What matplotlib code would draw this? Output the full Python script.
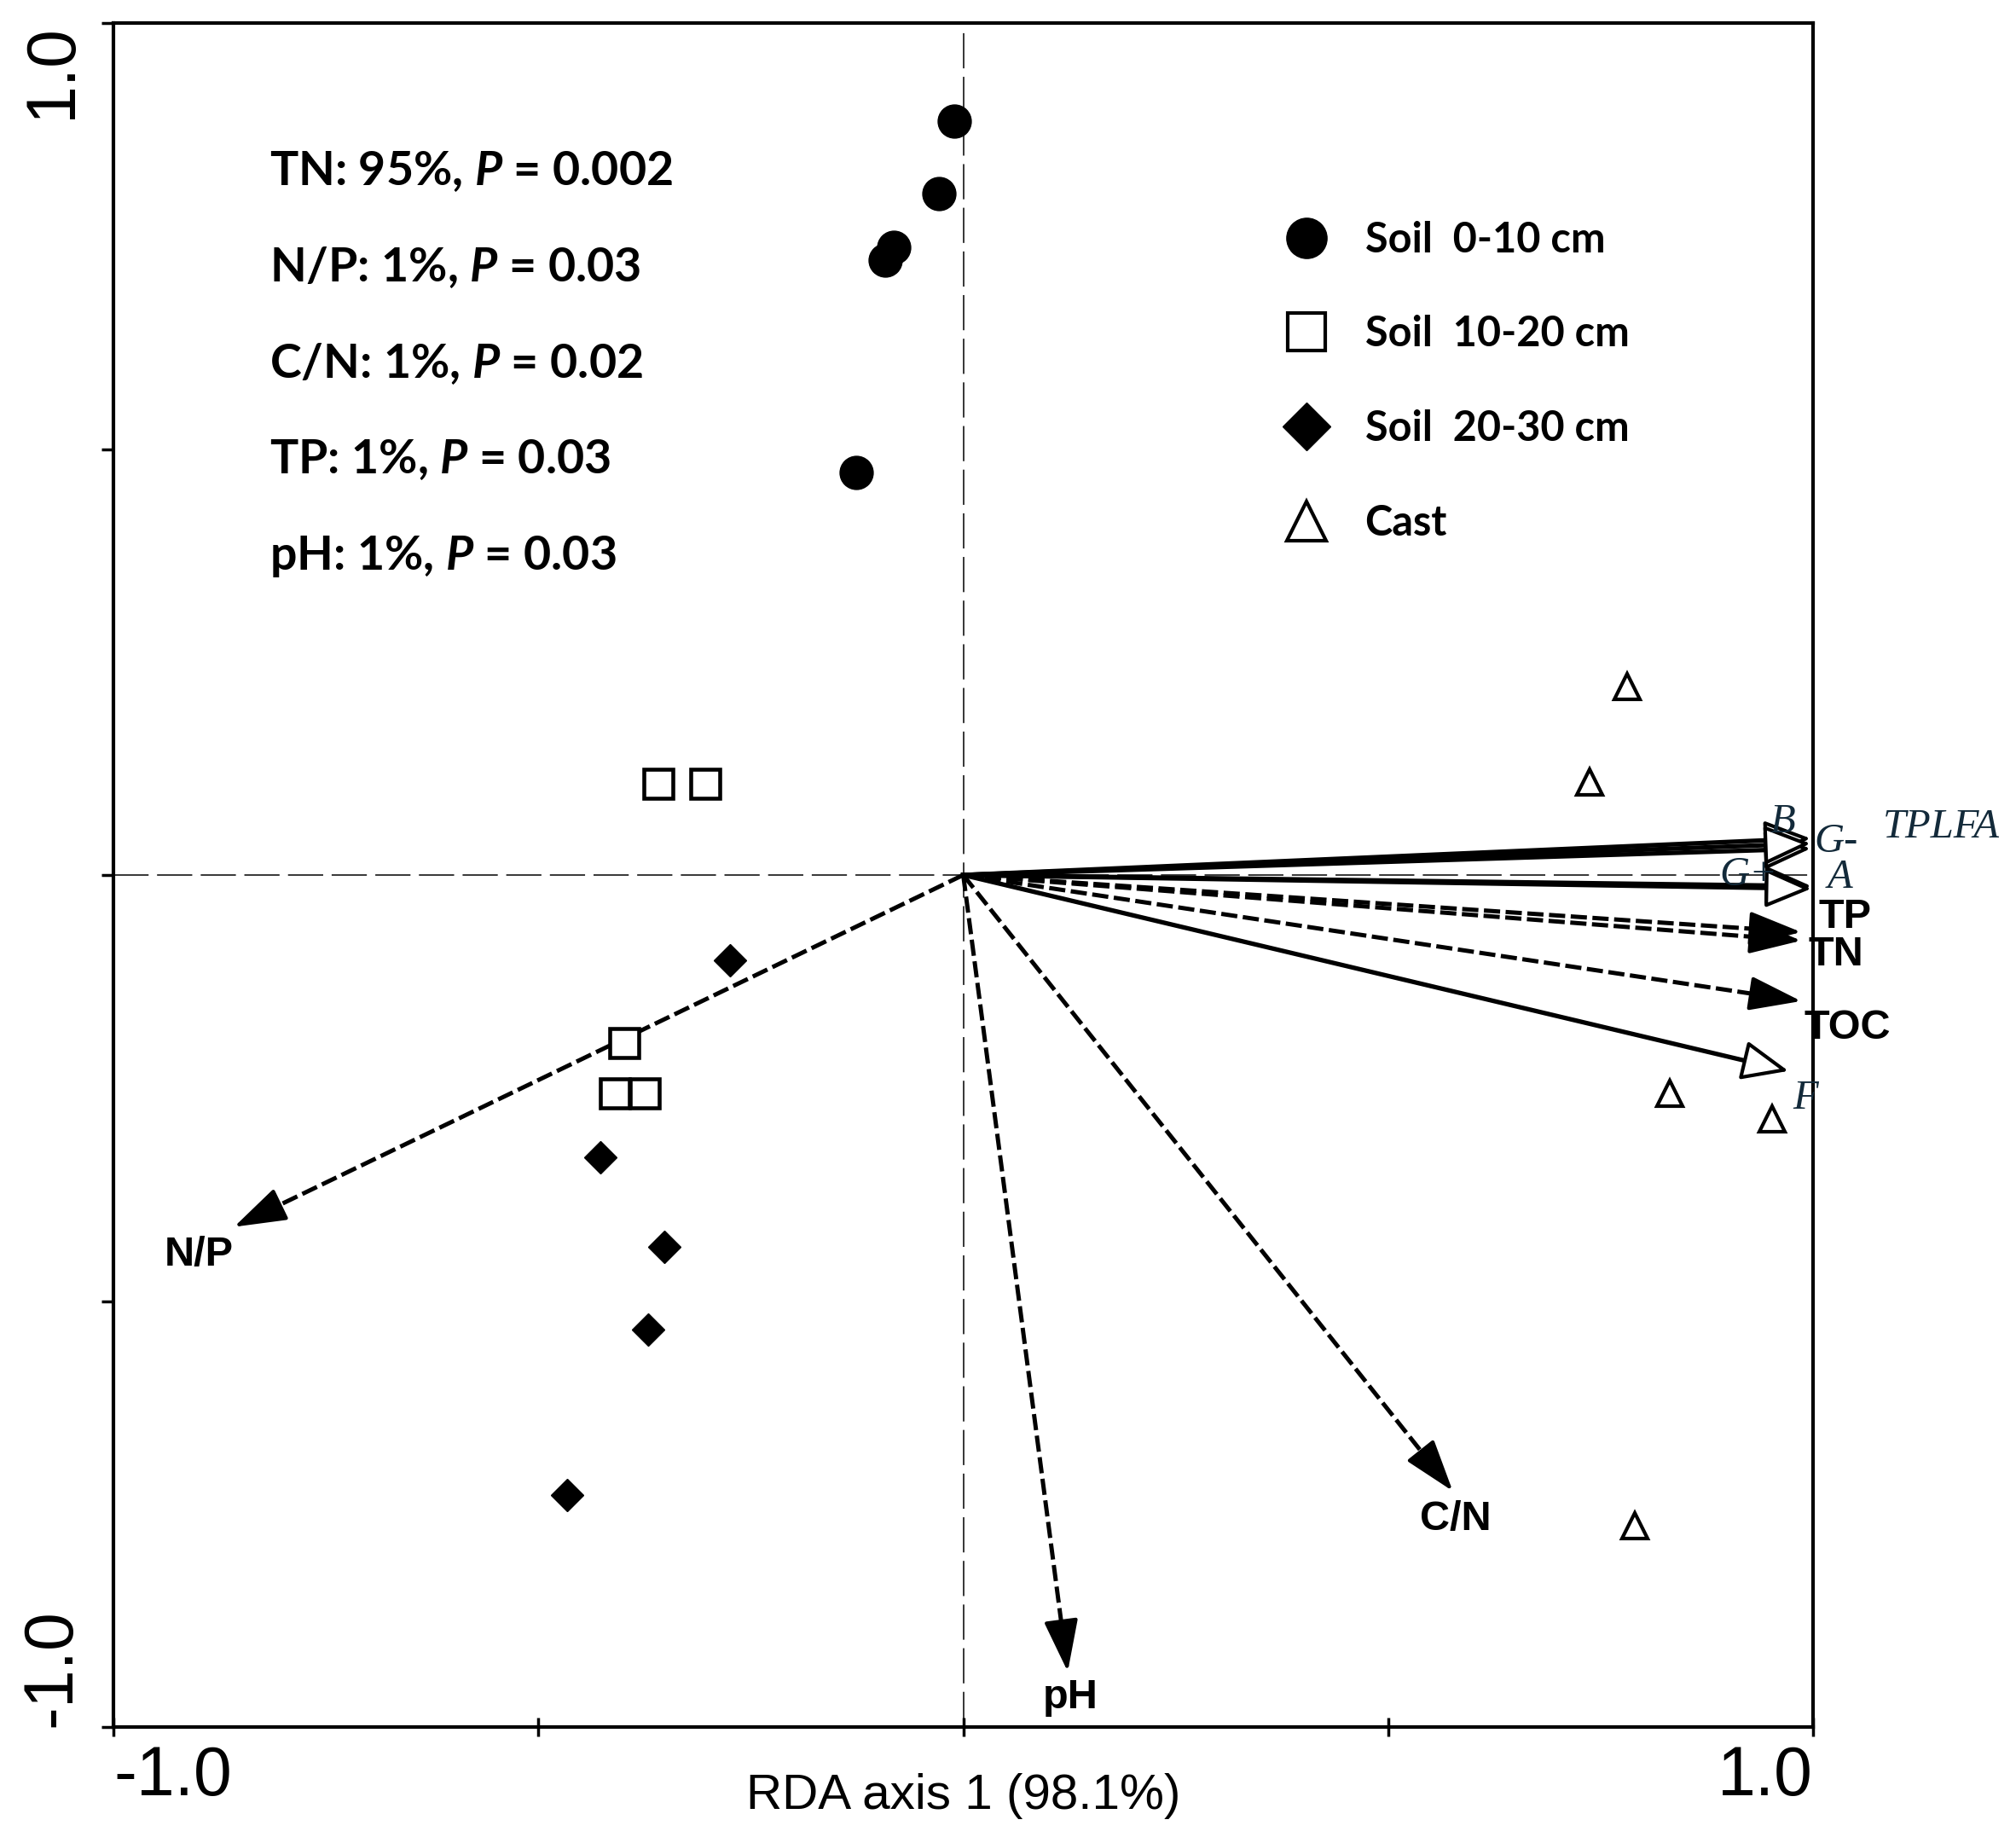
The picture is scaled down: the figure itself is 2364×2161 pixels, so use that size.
import numpy as np
import matplotlib
matplotlib.use("Agg")
import matplotlib.pyplot as plt
from matplotlib.lines import Line2D

# sample scores (RDA axis 1, RDA axis 2)
soil_0_10_x = [-0.011, -0.029, -0.082, -0.092, -0.126]
soil_0_10_y = [0.885, 0.800, 0.737, 0.722, 0.472]
soil_10_20_x = [-0.359, -0.304, -0.399, -0.410, -0.375]
soil_10_20_y = [0.107, 0.107, -0.197, -0.256, -0.256]
soil_20_30_x = [-0.274, -0.427, -0.352, -0.371, -0.466]
soil_20_30_y = [-0.100, -0.331, -0.436, -0.534, -0.728]
cast_x = [0.781, 0.737, 0.831, 0.952, 0.790]
cast_y = [0.221, 0.109, -0.256, -0.286, -0.764]

# environmental variables (dashed arrows, filled heads)
env_names = ['N/P', 'pH', 'C/N', 'TP', 'TN', 'TOC']
env_x = [-0.858, 0.123, 0.576, 0.986, 0.986, 0.986]
env_y = [-0.413, -0.935, -0.723, -0.067, -0.077, -0.148]

# PLFA groups (solid arrows, open heads)
plfa_names = ['B', 'G-', 'TPLFA', 'G+', 'A', 'F']
plfa_x = [0.997, 0.997, 0.997, 0.998, 0.998, 0.971]
plfa_y = [0.043, 0.031, 0.037, -0.013, -0.016, -0.230]

stats_lines = ['TN: 95%, $P$ = 0.002', 'N/P: 1%, $P$ = 0.03', 'C/N: 1%, $P$ = 0.02',
               'TP: 1%, $P$ = 0.03', 'pH: 1%, $P$ = 0.03']

plt.rcParams['font.family'] = 'Liberation Sans'
plt.rcParams['mathtext.fontset'] = 'custom'
plt.rcParams['mathtext.it'] = 'Lato:italic:bold'
plt.rcParams['mathtext.rm'] = 'Lato:bold'

fig = plt.figure(figsize=(23.64, 21.61), dpi=100)
ax = fig.add_axes([133 / 2364, 136 / 2161, 1993 / 2364, 1998 / 2161])
ax.set_xlim(-1, 1)
ax.set_ylim(-1, 1)

ax.axhline(0, color='k', lw=1.1, ls=(0, (27, 6.5)), zorder=1)
ax.axvline(0, color='k', lw=1.1, ls=(0, (27, 6.5)), zorder=1)

navy = '#132a3a'


def draw_arrow(x, y, filled, dashed):
    ls = (0, (3.8, 1.3)) if dashed else '-'
    lw = 3.6 if dashed else 3.8
    ax.plot([0, x * 0.96], [0, y * 0.96], color='k', lw=lw, ls=ls, zorder=3)
    if filled:
        style = '-|>,head_length=3.8,head_width=1.25'
        fc = 'k'
    else:
        style = '-|>,head_length=3.4,head_width=1.45'
        fc = 'white'
    ax.annotate('', xy=(x, y), xytext=(x * 0.955, y * 0.955),
                arrowprops=dict(arrowstyle=style, fc=fc, ec='k', lw=3.0,
                                shrinkA=0, shrinkB=0, mutation_scale=10),
                zorder=4)


for xx, yy in zip(env_x, env_y):
    draw_arrow(xx, yy, True, True)
for xx, yy in zip(plfa_x, plfa_y):
    draw_arrow(xx, yy, False, False)

# labels
env_label_pos = {'N/P': (-0.899, -0.446), 'pH': (0.126, -0.965), 'C/N': (0.579, -0.756),
                 'TP': (1.038, -0.050), 'TN': (1.027, -0.094), 'TOC': (1.040, -0.180)}
for name in env_names:
    lx, ly = env_label_pos[name]
    ax.text(lx, ly, name, fontsize=35, fontweight='bold', ha='center', va='center',
            clip_on=False, zorder=5)

plfa_label_pos = {'B': (0.964, 0.062), 'G-': (1.027, 0.039), 'TPLFA': (1.151, 0.056),
                  'G+': (0.924, 0.0), 'A': (1.032, -0.003), 'F': (0.991, -0.262)}
for name in plfa_names:
    lx, ly = plfa_label_pos[name]
    ax.text(lx, ly, name, fontsize=35, family='Liberation Serif', style='italic',
            color=navy, ha='center', va='center', clip_on=False, zorder=5)

# samples
ax.plot(soil_0_10_x, soil_0_10_y, 'o', ms=28, color='k', ls='none', zorder=6)
ax.plot(soil_10_20_x, soil_10_20_y, 's', ms=25, mfc='white', mec='k', mew=3.3, ls='none', zorder=6)
ax.plot(soil_20_30_x, soil_20_30_y, 'D', ms=19, color='k', ls='none', zorder=6)
ax.plot(cast_x, cast_y, '^', ms=21, mfc='white', mec='k', mew=3, ls='none', zorder=6)

# statistics block
for i, line in enumerate(stats_lines):
    ax.text(0.0918, 0.905 - i * 0.0565, line, transform=ax.transAxes, fontsize=40,
            family='Lato', fontweight='bold', ha='left', va='baseline')

handles = [
    Line2D([], [], marker='o', ms=34, color='k', ls='none'),
    Line2D([], [], marker='s', ms=31, mfc='white', mec='k', mew=3, ls='none'),
    Line2D([], [], marker='D', ms=29, color='k', ls='none'),
    Line2D([], [], marker='^', ms=33, mfc='white', mec='k', mew=3, ls='none'),
]
labels = ['Soil  0-10 cm', 'Soil  10-20 cm', 'Soil  20-30 cm', 'Cast']
leg = ax.legend(handles, labels, loc='upper left', bbox_to_anchor=(0.69, 0.884),
                frameon=False, prop={'family': 'Lato', 'weight': 'bold', 'size': 35},
                handlelength=1.0, handletextpad=0.9, labelspacing=1.35,
                borderpad=0, borderaxespad=0)

# axes styling
for sp in ax.spines.values():
    sp.set_linewidth(3)
ax.set_xticks([-1, -0.5, 0, 0.5, 1], labels=['-1.0', '', '', '', '1.0'])
ax.set_yticks([-1, -0.5, 0, 0.5, 1], labels=['-1.0', '', '', '', '1.0'], rotation=90)
ax.tick_params(axis='x', direction='inout', length=16, width=2.5, pad=7, labelsize=58)
ax.tick_params(axis='y', direction='out', length=10, width=2.5, pad=14, labelsize=58)
xl = ax.get_xticklabels()
xl[0].set_ha('left')
xl[-1].set_ha('right')
yl = ax.get_yticklabels()
yl[0].set_va('bottom')
yl[-1].set_va('top')

ax.set_xlabel('RDA axis 1 (98.1%)', fontsize=42, va='center')
ax.xaxis.set_label_coords(0.5, -0.0405)

fig.savefig('out.png', dpi=100)
